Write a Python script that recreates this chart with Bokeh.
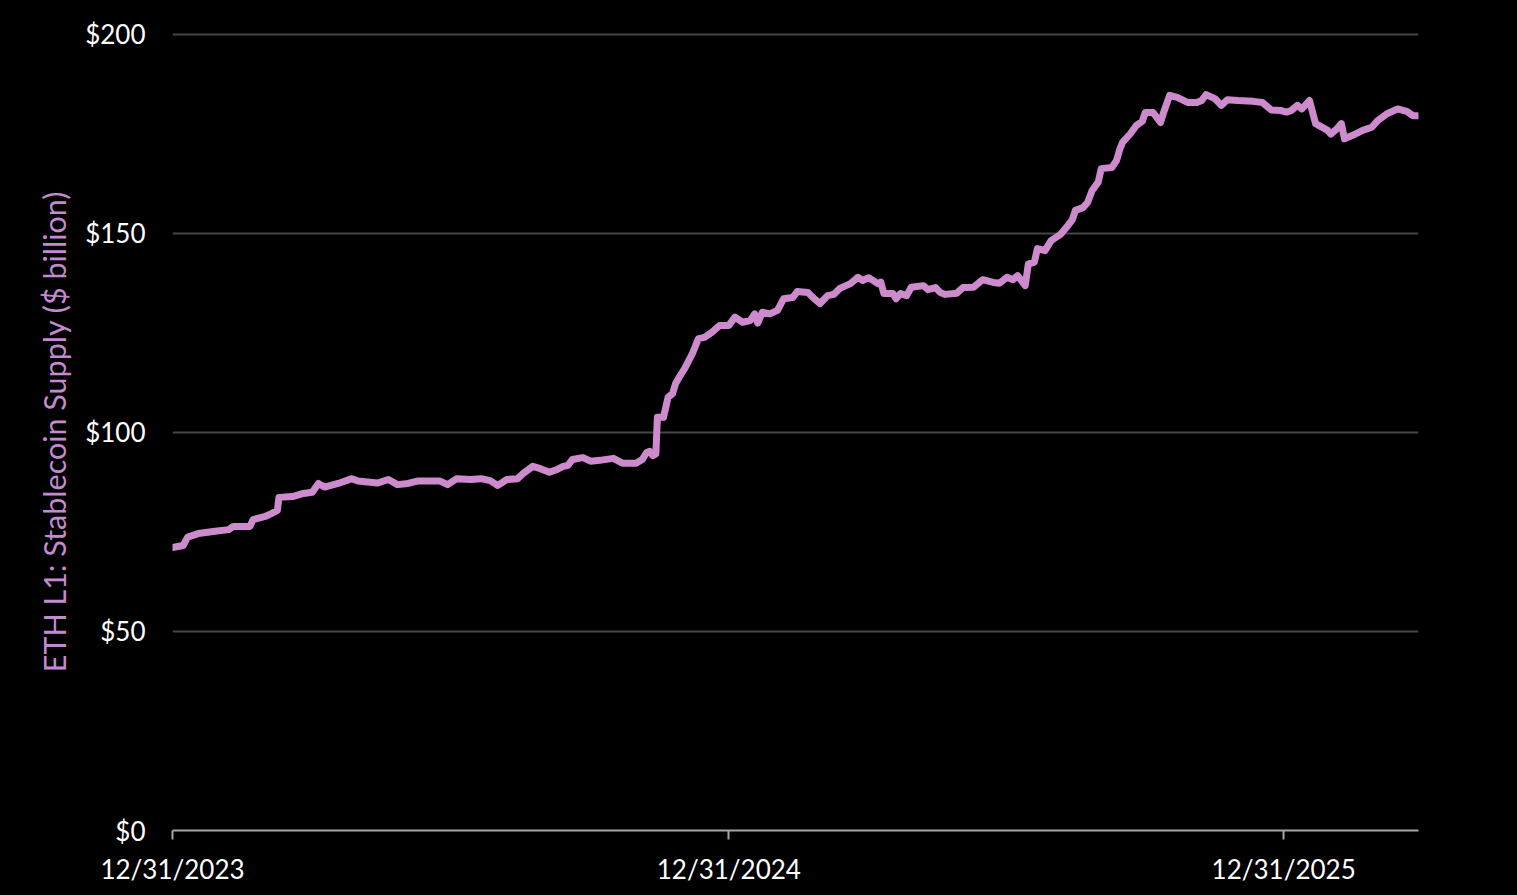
import pandas as pd
from bokeh.plotting import figure
from bokeh.models import Range1d, FixedTicker, PrintfTickFormatter, DatetimeTickFormatter
from bokeh.embed import file_html
from bokeh.resources import INLINE

# ---- data ----
dates = [
    "2023-12-31", "2024-01-07", "2024-01-10", "2024-01-17", "2024-01-28", "2024-02-06",
    "2024-02-09", "2024-02-20", "2024-02-22", "2024-03-01", "2024-03-05", "2024-03-09",
    "2024-03-10", "2024-03-19", "2024-03-25", "2024-04-01", "2024-04-05", "2024-04-09",
    "2024-04-18", "2024-04-27", "2024-05-01", "2024-05-14", "2024-05-21", "2024-05-27",
    "2024-06-03", "2024-06-09", "2024-06-24", "2024-06-29", "2024-07-05", "2024-07-14",
    "2024-07-21", "2024-07-27", "2024-08-01", "2024-08-07", "2024-08-14", "2024-08-18",
    "2024-08-24", "2024-08-29", "2024-09-04", "2024-09-09", "2024-09-13", "2024-09-16",
    "2024-09-19", "2024-09-26", "2024-10-01", "2024-10-07", "2024-10-16", "2024-10-22",
    "2024-10-31", "2024-11-04", "2024-11-07", "2024-11-09", "2024-11-11", "2024-11-13",
    "2024-11-14", "2024-11-18", "2024-11-21", "2024-11-24", "2024-11-26", "2024-11-29",
    "2024-12-02", "2024-12-07", "2024-12-11", "2024-12-15", "2024-12-20", "2024-12-25",
    "2024-12-31", "2025-01-04", "2025-01-09", "2025-01-14", "2025-01-17", "2025-01-19",
    "2025-01-22", "2025-01-27", "2025-02-01", "2025-02-05", "2025-02-11", "2025-02-14",
    "2025-02-21", "2025-02-24", "2025-03-01", "2025-03-06", "2025-03-10", "2025-03-14",
    "2025-03-21", "2025-03-26", "2025-03-29", "2025-04-02", "2025-04-08", "2025-04-10",
    "2025-04-12", "2025-04-18", "2025-04-20", "2025-04-23", "2025-04-27", "2025-04-30",
    "2025-05-08", "2025-05-11", "2025-05-16", "2025-05-19", "2025-05-22", "2025-05-30",
    "2025-06-03", "2025-06-10", "2025-06-16", "2025-06-23", "2025-06-27", "2025-07-02",
    "2025-07-06", "2025-07-09", "2025-07-14", "2025-07-16", "2025-07-20", "2025-07-22",
    "2025-07-27", "2025-07-31", "2025-08-06", "2025-08-10", "2025-08-14", "2025-08-16",
    "2025-08-21", "2025-08-24", "2025-08-27", "2025-08-31", "2025-09-02", "2025-09-09",
    "2025-09-12", "2025-09-14", "2025-09-16", "2025-09-21", "2025-09-25", "2025-09-29",
    "2025-10-01", "2025-10-06", "2025-10-11", "2025-10-13", "2025-10-17", "2025-10-22",
    "2025-10-29", "2025-11-04", "2025-11-07", "2025-11-10", "2025-11-16", "2025-11-20",
    "2025-11-24", "2025-12-01", "2025-12-11", "2025-12-17", "2025-12-23", "2025-12-29",
    "2026-01-02", "2026-01-05", "2026-01-09", "2026-01-12", "2026-01-17", "2026-01-21",
    "2026-01-29", "2026-01-31", "2026-02-04", "2026-02-07", "2026-02-09", "2026-02-14",
    "2026-02-21", "2026-02-27", "2026-03-03", "2026-03-09", "2026-03-16", "2026-03-22",
    "2026-03-26", "2026-03-29",
]
supply = [
    71.1, 71.6, 73.7, 74.6, 75.2, 75.6,
    76.4, 76.4, 78.1, 78.9, 79.6, 80.4,
    83.7, 83.9, 84.6, 85.0, 87.2, 86.3,
    87.2, 88.4, 87.8, 87.3, 88.2, 86.9,
    87.2, 87.8, 87.8, 86.9, 88.4, 88.2,
    88.4, 87.9, 86.7, 88.2, 88.4, 89.8,
    91.5, 90.9, 90.0, 90.7, 91.5, 91.7,
    93.2, 93.7, 92.8, 93.0, 93.5, 92.3,
    92.3, 93.2, 95.0, 95.3, 94.2, 94.6,
    103.8, 103.8, 108.8, 109.8, 112.3, 114.3,
    116.1, 119.8, 123.6, 123.9, 125.2, 126.9,
    126.9, 129.0, 127.7, 128.1, 129.8, 127.5,
    130.2, 129.8, 130.7, 133.6, 133.9, 135.4,
    135.2, 134.0, 132.4, 134.4, 134.7, 136.2,
    137.4, 139.0, 138.2, 138.9, 137.4, 137.8,
    134.9, 134.9, 133.6, 134.9, 134.4, 136.5,
    136.9, 135.9, 136.4, 135.2, 134.7, 135.0,
    136.4, 136.5, 138.4, 137.7, 137.5, 139.0,
    138.4, 139.4, 136.9, 142.3, 142.8, 146.2,
    145.7, 148.2, 149.7, 151.5, 153.5, 155.8,
    156.5, 157.8, 160.8, 162.9, 166.3, 166.6,
    168.3, 170.9, 172.9, 175.0, 177.1, 178.2,
    180.4, 180.4, 177.9, 180.4, 184.7, 184.2,
    182.9, 182.9, 183.4, 184.9, 183.8, 182.2,
    183.6, 183.4, 183.2, 182.9, 181.0, 180.9,
    180.5, 180.9, 182.2, 181.3, 183.4, 177.6,
    175.9, 175.0, 176.3, 177.6, 173.8, 174.6,
    175.9, 176.7, 178.4, 180.1, 181.3, 180.7,
    179.6, 179.6,
]
x_tick_dates = ["2023-12-31", "2024-12-31", "2025-12-31"]
y_ticks = [0, 50, 100, 150, 200]
y_label = "ETH L1: Stablecoin Supply ($ billion)"

# ---- figure ----
x = pd.to_datetime(dates)
W, H = 1499, 879
p = figure(
    width=W, height=H,
    x_axis_type="datetime",
    output_backend="svg", toolbar_location=None,
    x_range=Range1d(pd.Timestamp("2023-12-31"), pd.Timestamp("2026-03-29 17:00")),
    y_range=Range1d(0, 200.5),
    min_border_left=164, min_border_right=W - 1410,
    min_border_top=24, min_border_bottom=H - 822,
)
p.background_fill_color = "black"
p.border_fill_color = "black"
p.outline_line_color = None

p.line(x, supply, line_color="#CD8ACD", line_width=7, line_join="round", line_cap="round")

# x axis
tick_ms = [pd.Timestamp(d).value // 10**6 for d in x_tick_dates]
p.xaxis.ticker = FixedTicker(ticks=tick_ms)
fmt = "%m/%d/%Y"
p.xaxis.formatter = DatetimeTickFormatter(
    milliseconds=fmt, seconds=fmt, minsec=fmt, minutes=fmt, hourmin=fmt,
    hours=fmt, days=fmt, months=fmt, years=fmt, context=None)
p.xaxis.axis_line_color = "#A6A6A6"
p.xaxis.axis_line_width = 2
p.xaxis.major_tick_line_color = "#A6A6A6"
p.xaxis.major_tick_line_width = 2
p.xaxis.major_tick_in = 0
p.xaxis.major_tick_out = 9
p.xaxis.minor_tick_line_color = None
p.xaxis.major_label_text_color = "white"
p.xaxis.major_label_text_font = "Lato"
p.xaxis.major_label_text_font_size = "26px"
p.xaxis.major_label_standoff = 13

# y axis
p.yaxis.ticker = FixedTicker(ticks=y_ticks)
p.yaxis.formatter = PrintfTickFormatter(format="$%d")
p.yaxis.axis_line_color = None
p.yaxis.major_tick_line_color = None
p.yaxis.minor_tick_line_color = None
p.yaxis.major_tick_out = 0
p.yaxis.major_tick_in = 0
p.yaxis.major_label_standoff = 27
p.yaxis.major_label_text_color = "white"
p.yaxis.major_label_text_font = "Lato"
p.yaxis.major_label_text_font_size = "26px"
p.yaxis.axis_label = y_label
p.yaxis.axis_label_text_color = "#C48AD0"
p.yaxis.axis_label_text_font = "Lato"
p.yaxis.axis_label_text_font_size = "30.5px"
p.yaxis.axis_label_text_font_style = "normal"
p.yaxis.axis_label_standoff = 10

# grid
p.xgrid.grid_line_color = None
p.ygrid.grid_line_color = "#454545"
p.ygrid.grid_line_width = 2

html = file_html(p, INLINE)
html = html.replace("<body>", '<body style="background-color:#000000; margin:8px;">')
open("out.html", "w").write(html)
